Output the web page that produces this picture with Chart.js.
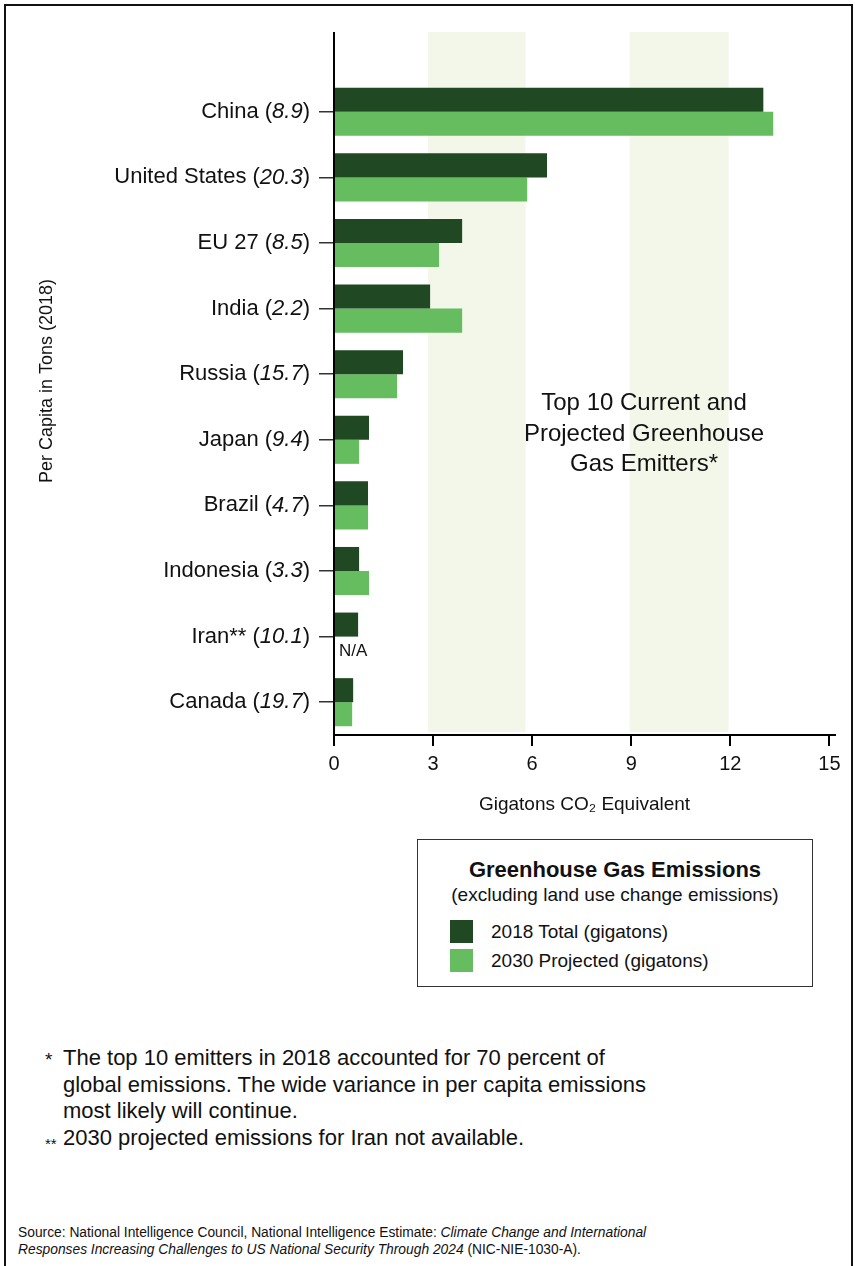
<!DOCTYPE html>
<html>
<head>
<meta charset="utf-8">
<script src="https://cdn.jsdelivr.net/npm/chart.js@4.4.1/dist/chart.umd.min.js"></script>
<style>
  body { margin: 0; background: #fff; font-family: "Liberation Sans", Arial, sans-serif; color: #111; }
  #page { position: relative; width: 855px; height: 1266px; overflow: hidden; }
  #frame { position: absolute; left: 4px; top: 4px; width: 845px; height: 1300px; border: 2px solid #111; }
  #wrap { position: absolute; left: 0; top: 0; width: 855px; height: 830px; }
  #note { position: absolute; left: 504px; top: 387px; width: 280px; text-align: center; font-size: 24px; line-height: 30.5px; }
  #legend { position: absolute; left: 417px; top: 839px; width: 396px; height: 148px; border: 1px solid #333; box-sizing: border-box; }
  #legend .t { position: absolute; left: 0; width: 100%; top: 17px; text-align: center; font-weight: bold; font-size: 22px; }
  #legend .s { position: absolute; left: 0; width: 100%; top: 44px; text-align: center; font-size: 19px; }
  #legend .row { position: absolute; left: 32px; font-size: 19px; }
  #legend .sw { position: absolute; left: 0; top: 0; width: 23px; height: 23px; }
  #legend .lb { position: absolute; left: 41px; top: 0; white-space: nowrap; line-height: 23px; }
  #foot { position: absolute; left: 63px; top: 1045px; width: 620px; font-size: 22px; line-height: 26.5px; }
  #foot .m { position: absolute; }
  #source { position: absolute; left: 18px; top: 1224px; font-size: 13.8px; line-height: 17px; }
</style>
</head>
<body>
<div id="page">
  <div id="frame"></div>
  <div id="wrap"><canvas id="chart"></canvas></div>
  <div id="note">Top 10 Current and<br>Projected Greenhouse<br>Gas Emitters*</div>
  <div id="legend">
    <div class="t">Greenhouse Gas Emissions</div>
    <div class="s">(excluding land use change emissions)</div>
    <div class="row" style="top:80px"><span class="sw" style="background:#1f4823"></span><span class="lb">2018 Total (gigatons)</span></div>
    <div class="row" style="top:109px"><span class="sw" style="background:#66bd5f"></span><span class="lb">2030 Projected (gigatons)</span></div>
  </div>
  <div id="foot">
    <span class="m" style="left:-18px;top:2px;font-size:19px">*</span>The top 10 emitters in 2018 accounted for 70 percent of<br>global emissions. The wide variance in per capita emissions<br>most likely will continue.<br>
    <span class="m" style="left:-18px;top:86px;font-size:15px">**</span>2030 projected emissions for Iran not available.
  </div>
  <div id="source">Source: National Intelligence Council, National Intelligence Estimate: <i>Climate Change and International<br>Responses Increasing Challenges to US National Security Through 2024</i> (NIC-NIE-1030-A).</div>
</div>
<script>
  // values
  const countries = ['China', 'United States', 'EU 27', 'India', 'Russia', 'Japan', 'Brazil', 'Indonesia', 'Iran**', 'Canada'];
  const perCapita = ['8.9', '20.3', '8.5', '2.2', '15.7', '9.4', '4.7', '3.3', '10.1', '19.7'];
  const total2018 = [13.0, 6.45, 3.88, 2.91, 2.09, 1.06, 1.03, 0.76, 0.73, 0.58];
  const projected2030 = [13.3, 5.85, 3.18, 3.88, 1.91, 0.76, 1.03, 1.06, null, 0.55];
  const xTicks = [0, 3, 6, 9, 12, 15];
  const bandFrom = [2.85, 8.95];
  const bandTo = [5.8, 11.95];

  const FONT = '"Liberation Sans", Arial, sans-serif';
  const AXIS_TOP = 32;

  const decor = {
    id: 'decor',
    beforeDatasetsDraw(chart) {
      const { ctx, chartArea, scales: { x } } = chart;
      ctx.save();
      ctx.fillStyle = '#f3f7ea';
      bandFrom.forEach((a, i) => {
        const x0 = x.getPixelForValue(a), x1 = x.getPixelForValue(bandTo[i]);
        ctx.fillRect(x0, AXIS_TOP, x1 - x0, chartArea.bottom - 3 - AXIS_TOP);
      });
      // y axis runs up past the first category
      ctx.strokeStyle = '#000';
      ctx.lineWidth = 2;
      ctx.beginPath();
      ctx.moveTo(chartArea.left, AXIS_TOP);
      ctx.lineTo(chartArea.left, chartArea.top + 1);
      ctx.stroke();
      ctx.restore();
    },
    afterDraw(chart) {
      const { ctx, scales: { x, y } } = chart;
      ctx.save();
      ctx.fillStyle = '#111';
      ctx.textBaseline = 'middle';
      const right = 310;
      countries.forEach((name, i) => {
        const py = y.getPixelForTick(i);
        ctx.font = '22px ' + FONT;
        const close = ')';
        const wClose = ctx.measureText(close).width;
        ctx.textAlign = 'right';
        ctx.fillText(close, right, py);
        ctx.font = 'italic 22px ' + FONT;
        const wNum = ctx.measureText(perCapita[i]).width;
        ctx.fillText(perCapita[i], right - wClose, py);
        ctx.font = '22px ' + FONT;
        ctx.fillText(name + ' (', right - wClose - wNum, py);
        if (projected2030[i] === null) {
          ctx.font = '17px ' + FONT;
          ctx.textAlign = 'left';
          ctx.fillText('N/A', x.getPixelForValue(0) + 5, py + 15);
        }
      });
      ctx.translate(47, 381);
      ctx.rotate(-Math.PI / 2);
      ctx.textAlign = 'center';
      ctx.font = '18px ' + FONT;
      ctx.fillText('Per Capita in Tons (2018)', 0, 0);
      ctx.restore();
    }
  };

  new Chart(document.getElementById('chart'), {
    type: 'bar',
    data: {
      labels: countries,
      datasets: [
        { label: '2018 Total (gigatons)', data: total2018, backgroundColor: '#1f4823' },
        { label: '2030 Projected (gigatons)', data: projected2030, backgroundColor: '#66bd5f' }
      ]
    },
    options: {
      indexAxis: 'y',
      responsive: true, maintainAspectRatio: false,
      animation: false,
      categoryPercentage: 0.733, barPercentage: 1,
      layout: { padding: { top: 79, right: 20, left: 0, bottom: 0 } },
      plugins: { legend: { display: false }, tooltip: { enabled: false } },
      scales: {
        x: {
          min: 0, max: 15.17,
          afterBuildTicks: s => { s.ticks = xTicks.map(v => ({ value: v })); },
          afterFit: s => { s.height = 95; },
          border: { display: true, color: '#000', width: 2 },
          grid: { drawOnChartArea: false, color: '#000', lineWidth: 2, tickLength: 11 },
          ticks: { color: '#111', font: { family: FONT, size: 20 }, padding: 6, maxRotation: 0 },
          title: { display: true, text: 'Gigatons CO₂ Equivalent', color: '#111', font: { family: FONT, size: 19 }, padding: { top: 0, bottom: 14 } }
        },
        y: {
          afterFit: s => { s.width = 334; },
          border: { display: true, color: '#000', width: 2 },
          grid: { offset: false, drawOnChartArea: false, color: '#333', lineWidth: 1.5, tickLength: 15 },
          ticks: { display: false }
        }
      }
    },
    plugins: [decor]
  });
</script>
</body>
</html>
